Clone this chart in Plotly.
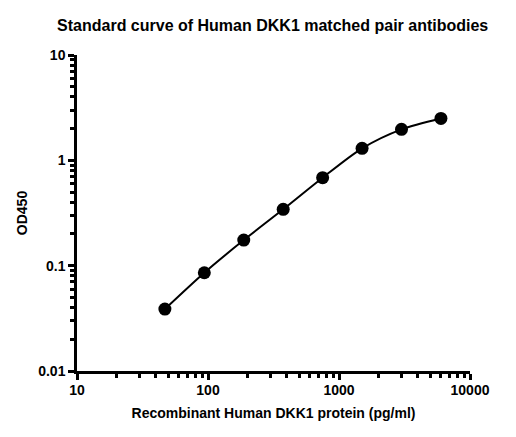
import plotly.graph_objects as go

# standard curve
CONC = [46.875, 93.75, 187.5, 375, 750, 1500, 3000, 6000]
OD450 = [0.0387, 0.0857, 0.175, 0.343, 0.684, 1.30, 1.97, 2.50]

X_TICKS = [10, 100, 1000, 10000]
X_LABELS = ["10", "100", "1000", "10000"]
Y_TICKS = [0.01, 0.1, 1, 10]
Y_LABELS = ["0.01", "0.1", "1", "10"]

FONT = "Liberation Sans, Arial, sans-serif"


def minor_positions(decades):
    return [k * 10**d for d in decades for k in range(2, 10)]


fig = go.Figure()
fig.add_trace(
    go.Scatter(
        x=CONC,
        y=OD450,
        mode="lines",
        line={"color": "black", "width": 2, "shape": "spline", "smoothing": 0.8},
        showlegend=False,
        hoverinfo="skip",
    ),
)
fig.add_trace(
    go.Scatter(
        x=CONC,
        y=OD450,
        mode="markers",
        marker={"color": "black", "size": 13},
        showlegend=False,
    ),
)

axis_common = {
    "type": "log",
    "showgrid": False,
    "zeroline": False,
    "showline": True,
    "automargin": False,
    "linecolor": "black",
    "linewidth": 2.5,
    "ticks": "outside",
    "ticklen": 6,
    "tickwidth": 2.5,
    "tickcolor": "black",
    "tickfont": {"family": FONT, "size": 14, "color": "black", "weight": "bold"},
}
minor_common = {"ticks": "outside", "ticklen": 4, "tickwidth": 2.5, "tickcolor": "black", "showgrid": False}

fig.update_xaxes(
    **axis_common,
    range=[1, 4],
    tickvals=X_TICKS,
    ticktext=X_LABELS,
    ticklabelstandoff=-2,
    minor={**minor_common, "tickmode": "array", "tickvals": minor_positions([1, 2, 3])},
    title={
        "text": "<b>Recombinant Human DKK1 protein (pg/ml)</b>",
        "font": {"family": FONT, "size": 14, "color": "black"},
        "standoff": 12,
    },
)
fig.update_yaxes(
    **axis_common,
    range=[-2, 1],
    tickvals=Y_TICKS,
    ticktext=Y_LABELS,
    minor={**minor_common, "tickmode": "array", "tickvals": minor_positions([-2, -1, 0])},
    title={
        "text": "<b>OD450</b>",
        "font": {"family": FONT, "size": 14, "color": "black"},
        "standoff": 8,
    },
)

# the page body adds an 8px margin, so the figure is 8px smaller than the window
fig.update_layout(
    width=508,
    height=429,
    paper_bgcolor="white",
    plot_bgcolor="white",
    margin={"l": 69, "r": 46, "t": 47, "b": 66},
    title={
        "text": "<b>Standard curve of Human DKK1 matched pair antibodies</b>",
        "font": {"family": FONT, "size": 16, "color": "black"},
        "x": 0.521,
        "xanchor": "center",
        "y": 0.96,
        "yanchor": "middle",
    },
)

fig.write_html("out.html")
